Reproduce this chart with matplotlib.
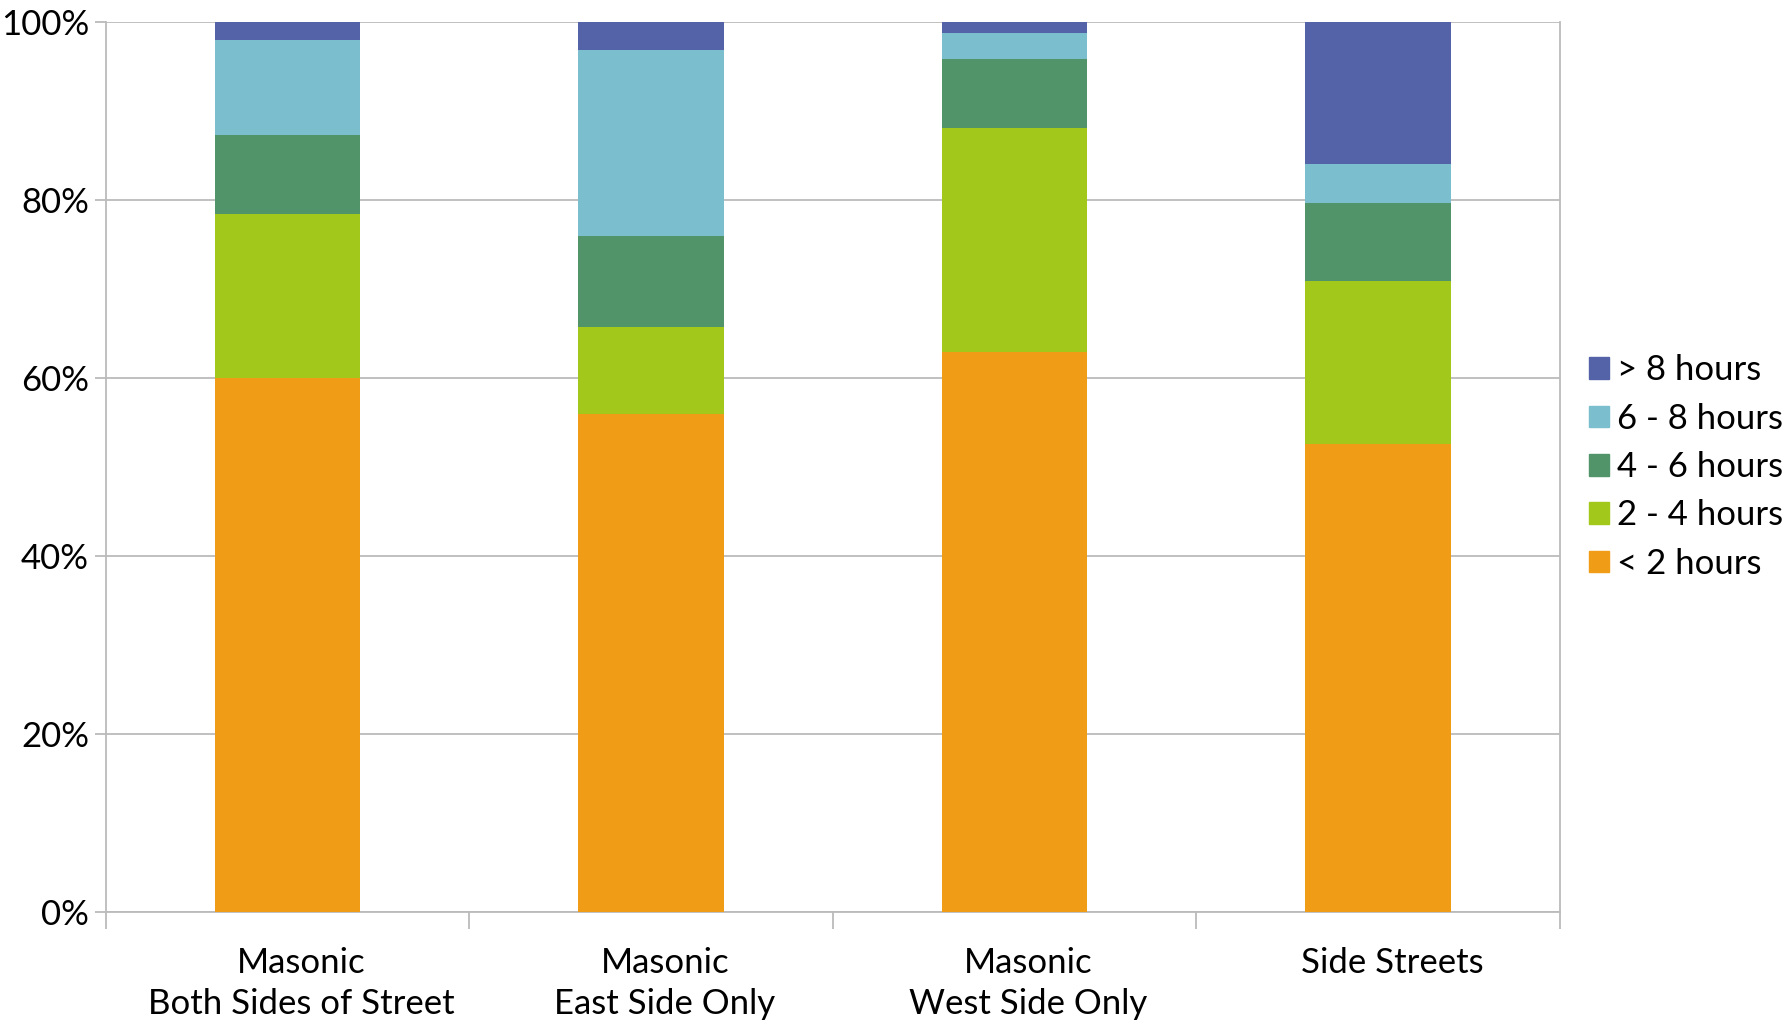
import matplotlib.pyplot as plt
from matplotlib.patches import Patch
from matplotlib.transforms import ScaledTranslation
import numpy as np

plt.rcParams['font.family'] = ['Lato', 'DejaVu Sans']

categories = ["Masonic\nBoth Sides of Street", "Masonic\nEast Side Only",
              "Masonic\nWest Side Only", "Side Streets"]
labels = ["< 2 hours", "2 - 4 hours", "4 - 6 hours", "6 - 8 hours", "> 8 hours"]
under_2 = [60.0, 55.9, 62.9, 52.6]
h2_4 = [18.4, 9.8, 25.2, 18.3]
h4_6 = [8.9, 10.3, 7.7, 8.8]
h6_8 = [10.7, 20.8, 3.0, 4.3]
over_8 = [2.0, 3.2, 1.2, 16.0]
colors = ["#F09C17", "#A1C81A", "#52946A", "#7BBFCF", "#5463A8"]

series = [under_2, h2_4, h4_6, h6_8, over_8]

fig = plt.figure(figsize=(17.89, 10.23), dpi=100)
ax = fig.add_axes([0.059, 0.1085, 0.813, 0.87])

x = np.arange(len(categories))
bottom = np.zeros(len(categories))
for vals, col in zip(series, colors):
    ax.bar(x, vals, 0.4, bottom=bottom, color=col, zorder=3)
    bottom += np.array(vals)

ax.set_xlim(-0.5, len(categories) - 0.5)
ax.set_ylim(0, 100)
ax.set_yticks(range(0, 101, 20))
ax.set_yticklabels([f"{v}%" for v in range(0, 101, 20)], fontsize=25)
ax.yaxis.grid(True, color="#BBBBBB", linewidth=1.3, zorder=0)
ax.tick_params(axis='y', length=8, color="#BBBBBB", width=1.3, pad=4)

ax.set_xticks(x)
ax.set_xticklabels(categories, fontsize=25, linespacing=1.35)
ax.tick_params(axis='x', which='major', length=0, pad=25)
ax.set_xticks(np.arange(-0.5, len(categories)), minor=True)
ax.tick_params(axis='x', which='minor', length=12, color="#BBBBBB", width=1.3)
# labels sit a bit right of the bar centres in the original
shift = ScaledTranslation(14 / 100, 0, fig.dpi_scale_trans)
for lab in ax.get_xticklabels():
    lab.set_transform(lab.get_transform() + shift)

for s in ['left', 'right', 'bottom']:
    ax.spines[s].set_color("#BBBBBB")
    ax.spines[s].set_linewidth(1.3)
ax.spines['top'].set_visible(False)

handles = [Patch(color=c) for c in colors][::-1]
ax.legend(handles, labels[::-1], loc='center left', bbox_to_anchor=(1.02, 0.5),
          frameon=False, fontsize=25, handlelength=0.58, handleheight=0.58,
          handletextpad=0.22, labelspacing=0.47, borderpad=0, borderaxespad=0)

fig.savefig("out.png", dpi=100)
